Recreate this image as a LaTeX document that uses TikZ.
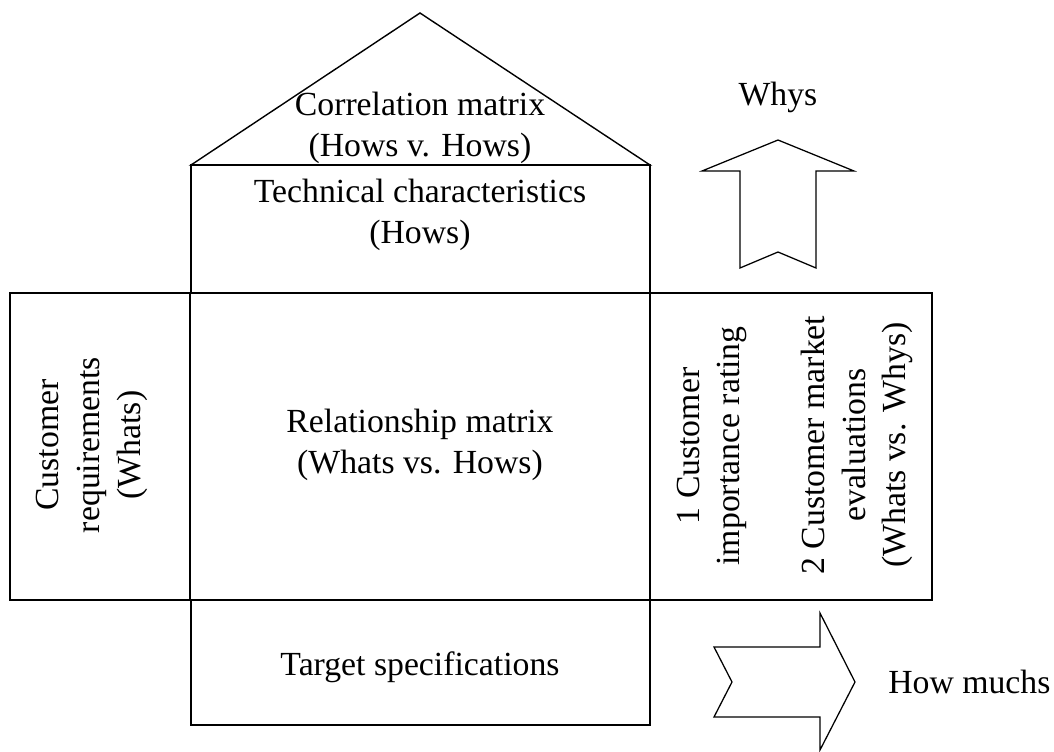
\documentclass[tikz,border=0pt]{standalone}
\usepackage{fontspec}
\setmainfont{Liberation Serif}
\usetikzlibrary{positioning}

\begin{document}
\begin{tikzpicture}[x=0.025cm,y=-0.025cm]
            \tikzset{label/.style={align=center, font=\fontsize{24}{29}\selectfont}}
            \tikzset{frame/.style={draw, line width=1pt}}
            \tikzset{bigarrow/.style={draw, line width=0.9pt, line join=miter}}
            \useasboundingbox (0,0) rectangle (1054,751);
            % house
            \draw[frame] (191,165) -- (420,13) -- (650,165) -- cycle;
            \draw[frame] (191,165) rectangle (650,293);
            \draw[frame] (10,293) rectangle (932,600);
            \draw[frame] (190,293) -- (190,600) (650,293) -- (650,600);
            \draw[frame] (191,600) rectangle (650,725);
            % labels
            \node[label] (corr) at (420,128) {Correlation matrix\\(Hows v. Hows)};
            \node[label] (tech) at (420,215) {Technical characteristics\\(Hows)};
            \node[label] (rel) at (420,445) {Relationship matrix\\(Whats vs. Hows)};
            \node[label] (target) at (420,667) {Target specifications};
            \node[label, rotate=90] (whats) at (92,445) {Customer\\requirements\\(Whats)};
            \node[label, rotate=90] (rating) at (712,446) {1 Customer\\importance rating};
            \node[label, rotate=90] (market) at (857,445) {2 Customer market\\evaluations\\(Whats vs. Whys)};
            % arrows
            \draw[bigarrow] (778,140) -- (854,171) -- (816,171) -- (816,268)
            -- (778,252) -- (740,268) -- (740,171) -- (702,171) -- cycle;
            \draw[bigarrow] (855,682) coordinate (tip) -- (820,613) -- (820,647) -- (714,647)
            -- (732,682) -- (714,717) -- (820,717) -- (820,750) -- cycle;
            \node[label] (whys) at (778,97) {Whys};
            \node[label, inner sep=0pt, right=33 of tip] (howmuch) {How muchs};
        \end{tikzpicture}
\end{document}
